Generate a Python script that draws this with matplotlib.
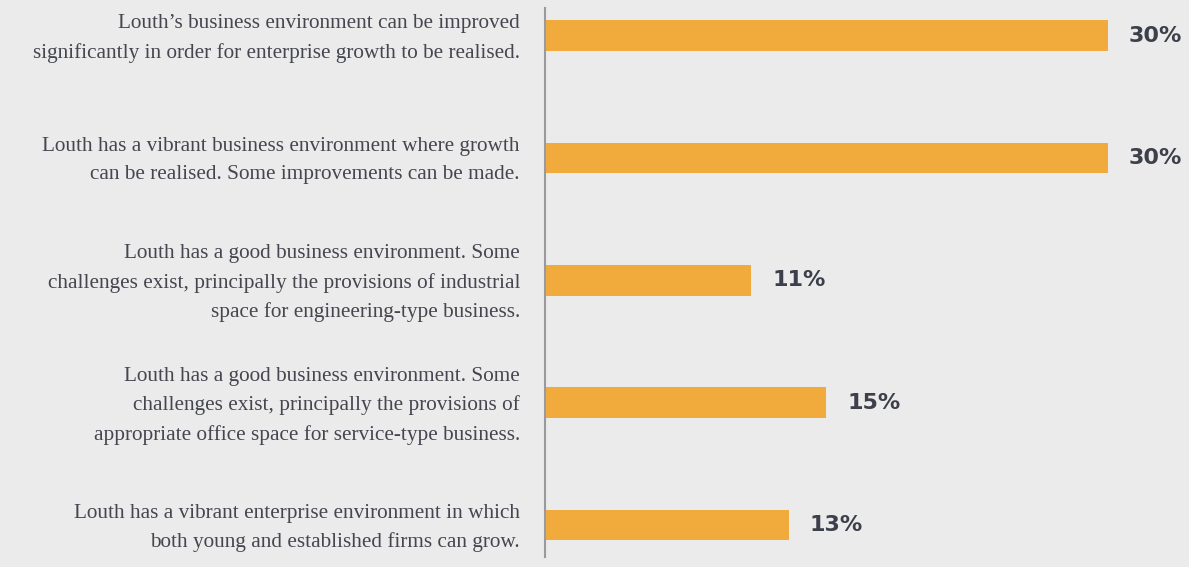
import matplotlib
matplotlib.use("Agg")
import matplotlib.pyplot as plt
from matplotlib.transforms import offset_copy, blended_transform_factory

categories = [
    "Louth\u2019s business environment can be improved\nsignificantly in order for enterprise growth to be realised.",
    "Louth has a vibrant business environment where growth\ncan be realised. Some improvements can be made.",
    "Louth has a good business environment. Some\nchallenges exist, principally the provisions of industrial\nspace for engineering-type business.",
    "Louth has a good business environment. Some\nchallenges exist, principally the provisions of\nappropriate office space for service-type business.",
    "Louth has a vibrant enterprise environment in which\nboth young and established firms can grow.",
]
values = [30, 30, 11, 15, 13]

BG = "#ebebeb"
BAR = "#f1ab3c"
TXT = "#45464f"
VAL = "#3d3f4a"

W, H = 1189, 567
fig = plt.figure(figsize=(W / 100, H / 100), dpi=100, facecolor=BG)
left, right, top, bottom = 545, 1189, 8, 557
ax = fig.add_axes([left / W, (H - bottom) / H, (right - left) / W, (bottom - top) / H])
ax.set_facecolor(BG)

pos = list(range(len(values)))
ax.barh(pos, values, height=0.25, color=BAR)
ax.set_xlim(0, (right - left) / 18.75)
ax.set_ylim(len(values) - 1 + 0.26, -0.225)

for s in ["top", "right", "bottom"]:
    ax.spines[s].set_visible(False)
ax.spines["left"].set_color("#9a9a9e")
ax.spines["left"].set_linewidth(1.5)
ax.set_xticks([])
ax.set_yticks([])

lab_tr = offset_copy(blended_transform_factory(ax.transAxes, ax.transData), fig=fig, x=-25, y=-3, units="dots")
for i, lab in zip(pos, categories):
    ax.text(0, i, lab, transform=lab_tr, ha="right", va="center", ma="right",
            family="Liberation Serif", fontsize=15.3, color=TXT, linespacing=1.65)

val_tr = offset_copy(ax.transData, fig=fig, x=21, y=0, units="dots")
for i, v in zip(pos, values):
    ax.text(v, i, f"{v}%", transform=val_tr, ha="left", va="center",
            family="DejaVu Sans", fontweight="bold", fontsize=16, color=VAL)

fig.savefig("out.png", dpi=100, facecolor=BG)
